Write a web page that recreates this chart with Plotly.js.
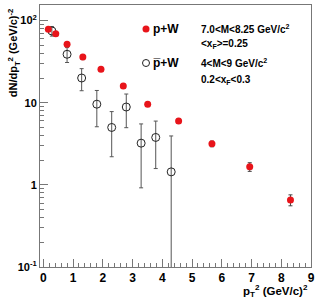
<!DOCTYPE html>
<html><head><meta charset="utf-8">
<script src="https://cdn.plot.ly/plotly-3.0.1.min.js"></script>
<style>body{margin:0;background:#fff}#c{width:327px;height:300px}</style>
</head><body><div id="c"></div>
<script>
const pW_x = [0.17, 0.42, 0.80, 1.33, 1.94, 2.69, 3.51, 4.55, 5.67, 6.94, 8.31];
const pW_y = [78.5, 69, 51.5, 36, 25.5, 16, 9.6, 6.0, 3.16, 1.66, 0.656];
const pW_err = [3, 3, 2.5, 2.5, 1, 1, 0.5, 0.4, 0.25, 0.2, 0.1];
const pbW_x = [0.29, 0.80, 1.29, 1.80, 2.30, 2.79, 3.29, 3.78, 4.30];
const pbW_y = [74.8, 38.9, 20, 9.6, 5.0, 8.87, 3.22, 3.78, 1.44];
const pbW_err = [10, 8, 6, 4.5, 2.8, 3.9, 2.3, 2.2, 2.5];
const yTickVals = [0.1, 1, 10, 100];
const yTickText = ['10<sup>-1</sup>', '1', '10', '10<sup>2</sup>'];
const xTickVals = [0,1,2,3,4,5,6,7,8,9];

const F = 'Liberation Sans, Arial, Helvetica, sans-serif';
const yMinor = [];
[0.1,1,10].forEach(d=>{for(let k=2;k<=9;k++) yMinor.push(d*k);});

const traces = [
 {x: pbW_x, y: pbW_y, type:'scatter', mode:'markers',
  marker:{symbol:'circle-open', size:8, color:'#222', line:{width:1, color:'#222'}},
  error_y:{type:'data', array: pbW_err, color:'#555', thickness:1, width:2}},
 {x: pW_x, y: pW_y, type:'scatter', mode:'markers',
  marker:{symbol:'circle', size:7, color:'#e8141a'},
  error_y:{type:'data', array: pW_err, color:'#444', thickness:1, width:2}}
];

const layout = {
  width:327, height:300, showlegend:false,
  margin:{l:40, r:16, t:5, b:33},
  paper_bgcolor:'#fff', plot_bgcolor:'#fff',
  font:{family:F, color:'#000'},
  xaxis:{range:[-0.11, 9.0], tickmode:'array', tickvals:xTickVals, ticks:'inside', ticklen:8,
    tickwidth:1, tickcolor:'#777', showline:true, linecolor:'#777', linewidth:1, mirror:true,
    showgrid:false, zeroline:false, tickfont:{family:F, size:12, weight:'bold'},
    minor:{ticks:'inside', ticklen:4, tickcolor:'#777', dtick:0.2, tick0:0, showgrid:false}},
  yaxis:{type:'log', range:[-1, 2.19], tickmode:'array', tickvals:yTickVals, ticktext:yTickText,
    ticks:'inside', ticklen:8, tickwidth:1, tickcolor:'#777', showline:true, linecolor:'#777',
    linewidth:1, mirror:true, showgrid:false, zeroline:false, tickfont:{family:F, size:11, weight:'bold'},
    minor:{ticks:'inside', ticklen:4, tickcolor:'#777', tickvals:yMinor, showgrid:false}},
  annotations:[
    {xref:'paper', yref:'paper', x:-0.098, y:0.995, xanchor:'center', yanchor:'top', textangle:-90,
     text:'dN/dp<sub>T</sub><sup>2</sup> (GeV/c)<sup>-2</sup>', showarrow:false,
     font:{family:F, size:11, weight:'bold'}},
    {xref:'paper', yref:'paper', x:0.995, y:-0.09, xanchor:'right', yanchor:'middle',
     text:'p<sub>T</sub><sup>2</sup> (GeV/c)<sup>2</sup>', showarrow:false,
     font:{family:F, size:11.5, weight:'bold'}},
    {xref:'paper', yref:'paper', x:(151-40)/271, y:1-(29-5)/262, xanchor:'left', yanchor:'middle',
     text:'p+W', showarrow:false, font:{family:F, size:12, weight:'bold'}},
    {xref:'paper', yref:'paper', x:(151-40)/271, y:1-(63-5)/262, xanchor:'left', yanchor:'middle',
     text:'p\u0305+W', showarrow:false, font:{family:F, size:12, weight:'bold'}},
    {xref:'paper', yref:'paper', x:(199-40)/271, y:1-(29-5)/262, xanchor:'left', yanchor:'middle',
     text:'7.0<M<8.25 GeV/c<sup>2</sup>', showarrow:false, font:{family:F, size:10, weight:'bold'}},
    {xref:'paper', yref:'paper', x:(199-40)/271, y:1-(44-5)/262, xanchor:'left', yanchor:'middle',
     text:'<x<sub>F</sub>>=0.25', showarrow:false, font:{family:F, size:10, weight:'bold'}},
    {xref:'paper', yref:'paper', x:(199-40)/271, y:1-(63-5)/262, xanchor:'left', yanchor:'middle',
     text:'4<M<9 GeV/c<sup>2</sup>', showarrow:false, font:{family:F, size:10, weight:'bold'}},
    {xref:'paper', yref:'paper', x:(199-40)/271, y:1-(80-5)/262, xanchor:'left', yanchor:'middle',
     text:'0.2<x<sub>F</sub><0.3', showarrow:false, font:{family:F, size:10, weight:'bold'}}
  ],
  shapes:[
    {type:'circle', xref:'paper', yref:'paper', x0:(146-3.5-40)/271, x1:(146+3.5-40)/271,
     y0:1-(29+3.5-5)/262, y1:1-(29-3.5-5)/262, fillcolor:'#e8141a', line:{width:0}},
    {type:'circle', xref:'paper', yref:'paper', x0:(146-3.5-40)/271, x1:(146+3.5-40)/271,
     y0:1-(63+3.5-5)/262, y1:1-(63-3.5-5)/262, fillcolor:'rgba(0,0,0,0)', line:{width:1, color:'#222'}}
  ]
};
Plotly.newPlot('c', traces, layout, {staticPlot:true, displayModeBar:false});
</script></body></html>
